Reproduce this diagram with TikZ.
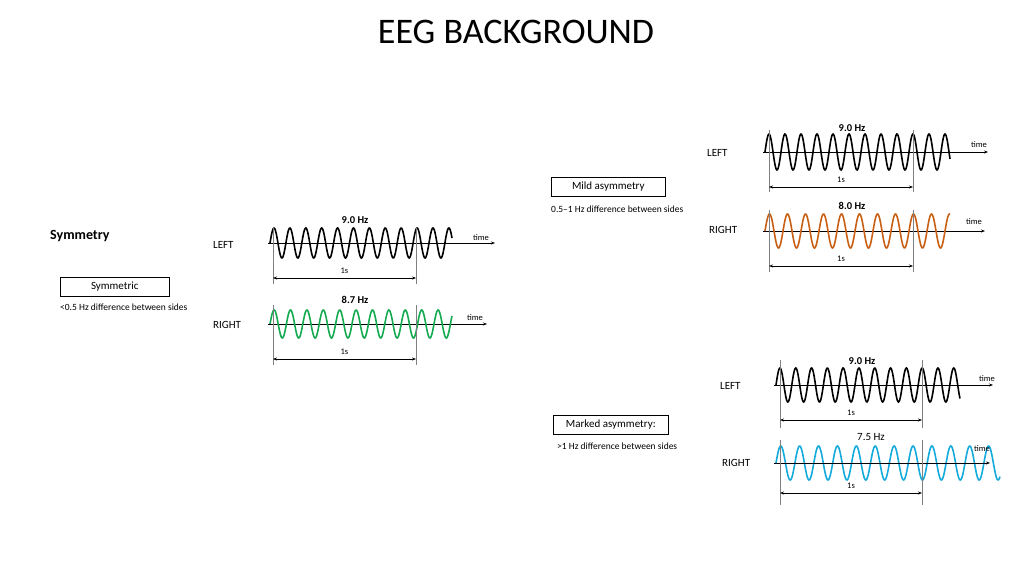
\documentclass[tikz,border=0pt]{standalone}
\usepackage{fontspec}
\setmainfont{Carlito}
\usetikzlibrary{arrows.meta}
\definecolor{eggreen}{RGB}{20,170,80}
\definecolor{egorange}{RGB}{200,95,20}
\definecolor{egblue}{RGB}{20,170,220}
\tikzset{
  lbl/.style={font=\fontsize{11}{12}\selectfont, inner sep=0pt},
  small/.style={font=\fontsize{9.5}{11}\selectfont, inner sep=0pt},
  tiny/.style={font=\fontsize{8.5}{10}\selectfont, inner sep=0pt},
  hz/.style={font=\bfseries\fontsize{10.5}{12}\selectfont, inner sep=0pt},
  axis/.style={-{Stealth[length=4pt,width=3pt]}, line width=0.8pt},
  wave/.style={line width=1.6pt},
  tick/.style={gray, line width=0.5pt},
  dim/.style={{Stealth[length=4pt,width=3pt]}-{Stealth[length=4pt,width=3pt]}, line width=0.8pt},
  box/.style={draw, line width=0.6pt, inner xsep=4pt, inner ysep=3pt, minimum height=19pt, anchor=north west, font=\fontsize{11}{12}\selectfont}
}
% #1 x0, #2 length, #3 y, #4 amp, #5 period, #6 colour
\newcommand{\eegwave}[6]{%
  \draw[wave,#6] plot[domain=0:#2, samples=300, smooth] ({\x+#1},{#3-#4*sin(\x/#5*360)});
}
\newcommand{\eegrow}[8]{%
  \coordinate (#8a) at (#1-2,#3);
  \coordinate (#8b) at (#7,#3);
  \draw[axis] (#8a) -- (#8b);
  \eegwave{#1}{#2}{#3}{#4}{#5}{#6}
}
\newcommand{\dimrow}[5]{%
  \coordinate (#5l1) at (#1,#3); \coordinate (#5l2) at (#1,#4);
  \coordinate (#5r1) at (#2,#3); \coordinate (#5r2) at (#2,#4);
  \draw[tick] (#5l1) -- (#5l2); \draw[tick] (#5r1) -- (#5r2);
}
\begin{document}
\begin{tikzpicture}[x=1pt,y=-1pt]
\useasboundingbox (0,0) rectangle (1024,575);
\node[font=\fontsize{36}{40}\selectfont, inner sep=0pt] (title) at (516,32) {EEG BACKGROUND};

% ---------- Symmetry panel
\node[font=\bfseries\fontsize{14}{16}\selectfont, anchor=west, inner sep=0pt] (sym) at (50,236) {Symmetry};
\node[box, minimum width=109pt] (symbox) at (60,277) {Symmetric};
\node[small, anchor=west] (symtxt) at (60,307) {<0.5 Hz difference between sides};

\node[lbl, anchor=west] (l1) at (213,245) {LEFT};
\eegrow{270}{182}{243}{15}{15.9}{black}{495}{a1}
\node[tiny] (t1) at (481,238) {time};
\node[hz] (h1) at (355,220) {9.0 Hz};
\dimrow{273}{416}{228}{284}{d1}
\coordinate (d1a) at (273,278); \coordinate (d1b) at (416,278);
\draw[dim] (d1a) -- node[tiny, above=4pt] (s1) {1s} (d1b);

\node[lbl, anchor=west] (r1) at (213,325) {RIGHT};
\eegrow{270}{182}{324}{14}{16.4}{eggreen}{487}{a2}
\node[tiny] (t2) at (475,318) {time};
\node[hz] (h2) at (355,300) {8.7 Hz};
\dimrow{273}{416}{305}{365}{d2}
\coordinate (d2a) at (273,359); \coordinate (d2b) at (416,359);
\draw[dim] (d2a) -- node[tiny, above=4pt] (s2) {1s} (d2b);

% ---------- Mild asymmetry
\node[box, minimum width=114pt] (mildbox) at (551,177) {Mild asymmetry};
\node[small, anchor=west] (mildtxt) at (551,209) {0.5–1 Hz difference between sides};

\node[lbl, anchor=west] (l2) at (707,153) {LEFT};
\eegrow{765}{185}{152}{18}{16}{black}{988}{a3}
\node[tiny] (t3) at (979,145) {time};
\node[hz] (h3) at (852,128) {9.0 Hz};
\dimrow{769}{913}{130}{192}{d3}
\coordinate (d3a) at (769,187); \coordinate (d3b) at (913,187);
\draw[dim] (d3a) -- node[tiny, above=4pt] (s3) {1s} (d3b);

\node[lbl, anchor=west] (r2) at (709,230) {RIGHT};
\eegrow{765}{185}{231}{17}{18}{egorange}{985}{a4}
\node[tiny] (t4) at (974,222) {time};
\node[hz] (h4) at (852,206) {8.0 Hz};
\dimrow{769}{913}{210}{272}{d4}
\coordinate (d4a) at (769,266); \coordinate (d4b) at (913,266);
\draw[dim] (d4a) -- node[tiny, above=4pt] (s4) {1s} (d4b);

% ---------- Marked asymmetry
\node[box, minimum width=115pt] (markbox) at (553,415) {Marked asymmetry:};
\node[small, anchor=west] (marktxt) at (557,446) {>1 Hz difference between sides};

\node[lbl, anchor=west] (l3) at (720,386) {LEFT};
\eegrow{776}{184}{385}{17}{15.8}{black}{993}{a5}
\node[tiny] (t5) at (987,379) {time};
\node[hz] (h5) at (862,361) {9.0 Hz};
\dimrow{780}{922}{360}{428}{d5}
\coordinate (d5a) at (780,420); \coordinate (d5b) at (922,420);
\draw[dim] (d5a) -- node[tiny, above=4pt] (s5) {1s} (d5b);

\node[lbl, anchor=west] (r3) at (722,463) {RIGHT};
\eegwave{776}{224}{463}{17}{18.9}{egblue}
\coordinate (a6a) at (774,463); \coordinate (a6b) at (990,463);
\draw[axis] (a6a) -- (a6b);
\node[tiny] (t6) at (982,449) {time};
\node[font=\fontsize{11}{12}\selectfont, inner sep=0pt] (h6) at (871,437) {7.5 Hz};
\dimrow{780}{922}{440}{505}{d6}
\coordinate (d6a) at (780,493); \coordinate (d6b) at (922,493);
\draw[dim] (d6a) -- node[tiny, above=4pt] (s6) {1s} (d6b);
\end{tikzpicture}
\end{document}
